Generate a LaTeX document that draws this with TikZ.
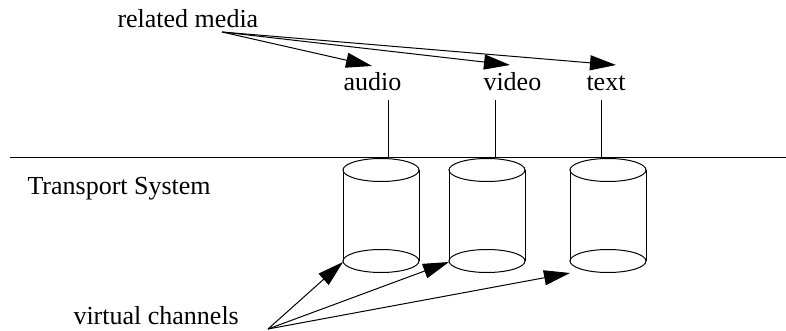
\documentclass[tikz,border=0pt]{standalone}
\usepackage{fontspec}
\setmainfont{Liberation Serif}
\usetikzlibrary{arrows.meta}
\begin{document}
\begin{tikzpicture}[x=1pt,y=-1pt,line width=1pt,
  lbl/.style={anchor=base west,inner sep=0pt,font=\fontsize{26}{30}\selectfont},
  bigarrow/.style={-{Triangle[length=26pt,width=15pt]}},
  cyl/.style={line width=1pt}]
\useasboundingbox (0,0) rectangle (786,331);
% labels
\node[lbl] (rel) at (117,28) {related media};
\node[lbl] (audio) at (343,91) {audio};
\node[lbl] (video) at (483,91) {video};
\node[lbl] (textl) at (586,91) {text};
\node[lbl] (ts) at (27,194) {Transport System};
\node[lbl] (vc) at (73,324) {virtual channels};
% system line
\coordinate (sl) at (10,158);
\coordinate (sr) at (786,158);
\draw (sl) -- (sr);
% cylinders
\foreach \n/\cx in {c1/381,c2/487,c3/608}{
  \draw[cyl] (\cx-38,170) -- (\cx-38,261);
  \draw[cyl] (\cx+38,170) -- (\cx+38,261);
  \draw[cyl] (\cx,170) ellipse [x radius=38, y radius=11.5];
  \draw[cyl] (\cx,261) ellipse [x radius=38, y radius=11.5];
  \coordinate (\n bl) at (\cx-38,262);
}
\coordinate (c3b) at (570,273);
% media drops
\coordinate (am) at (388,100); \coordinate (ab) at (388,158);
\coordinate (vm) at (495,100); \coordinate (vb) at (495,158);
\coordinate (tm) at (601,100); \coordinate (tb) at (601,158);
\draw (am) -- (ab);
\draw (vm) -- (vb);
\draw (tm) -- (tb);
% related media arrows
\coordinate (rs) at (222,32);
\coordinate (ra) at (372,66);
\coordinate (rv) at (510,65);
\coordinate (rt) at (616,65);
\draw[bigarrow] (rs) -- (ra);
\draw[bigarrow] (rs) -- (rv);
\draw[bigarrow] (rs) -- (rt);
% virtual channel arrows
\coordinate (vs) at (268,329);
\draw[bigarrow] (vs) -- (c1bl);
\draw[bigarrow] (vs) -- (c2bl);
\draw[bigarrow] (vs) -- (c3b);
\end{tikzpicture}
\end{document}
